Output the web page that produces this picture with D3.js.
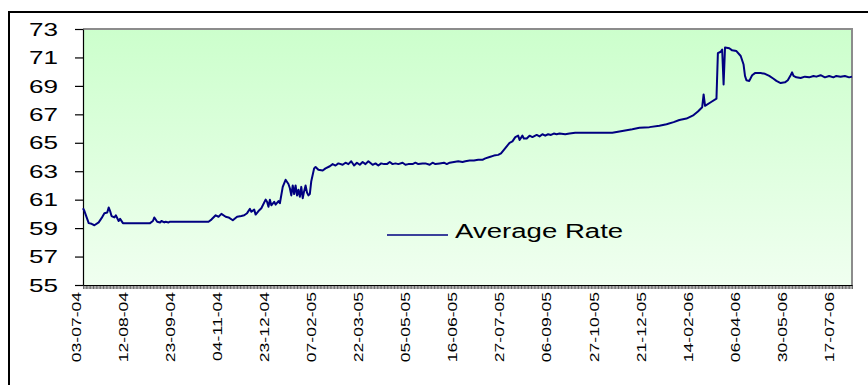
<!DOCTYPE html>
<html>
<head>
<meta charset="utf-8">
<script src="https://cdn.jsdelivr.net/npm/d3@7"></script>
<style>
  html, body { margin: 0; padding: 0; background: #ffffff; }
  svg { display: block; }
  text { font-family: Arial, "Liberation Sans", sans-serif; fill: #000; }
</style>
</head>
<body>
<svg id="chart" width="868" height="385"></svg>
<script>
// ---- data ----
const seriesName = "Average Rate";
const categoryCount = 540;          // number of daily observations on the category axis
const labelStep = 33;               // a label every 33 observations
const tickLabels = ["03-07-04","12-08-04","23-09-04","04-11-04","23-12-04","07-02-05",
  "22-03-05","05-05-05","16-06-05","27-07-05","06-09-05","27-10-05","21-12-05",
  "14-02-06","06-04-06","30-05-06","17-07-06"];
const yTicks = [55,57,59,61,63,65,67,69,71,73];

const obsIndex = [0,1,4,6,8,11,13,15,17,18,19,20,22,23,25,26,28,47,49,50,52,54,55,57,58,60,61,88,90,93,95,97,100,102,105,108,111,113,115,117,118,120,121,123,125,128,129,130,131,132,134,135,137,138,140,142,144,145,146,147,148,149,150,151,152,153,154,155,156,157,158,159,160,162,163,165,168,170,173,175,177,179,182,184,186,188,190,192,194,196,198,200,203,205,207,209,211,213,215,217,219,221,224,226,228,231,233,235,238,240,243,245,247,250,253,255,257,260,263,266,268,271,274,277,280,282,285,288,291,293,295,297,299,301,303,305,306,308,309,311,313,315,318,320,322,324,326,328,330,332,334,338,341,345,348,362,371,376,385,390,397,404,409,414,418,423,428,431,434,435,436,440,444,445,447,448,449,450,453,455,458,461,463,464,465,467,469,471,475,478,481,484,486,489,492,494,496,497,498,500,503,506,509,512,514,517,520,523,526,528,531,534,537,539];
const averageRate = [60.4,60.2,59.35,59.3,59.2,59.4,59.7,60.05,60.1,60.45,60.2,59.85,59.75,59.9,59.5,59.65,59.35,59.35,59.5,59.75,59.45,59.4,59.5,59.4,59.45,59.4,59.45,59.45,59.6,59.9,59.8,60.0,59.8,59.75,59.55,59.8,59.85,59.9,60.05,60.35,60.15,60.3,59.95,60.2,60.4,61.0,60.85,60.5,61.0,60.6,60.85,60.65,60.9,60.75,61.9,62.4,62.1,61.8,61.3,62.0,61.4,62.0,61.3,61.7,61.2,61.9,61.1,61.6,62.0,61.5,61.3,61.4,62.3,63.2,63.3,63.1,63.05,63.2,63.35,63.5,63.4,63.55,63.45,63.6,63.5,63.7,63.4,63.6,63.45,63.65,63.5,63.7,63.45,63.55,63.4,63.55,63.5,63.5,63.65,63.5,63.55,63.5,63.6,63.45,63.5,63.5,63.6,63.5,63.55,63.55,63.45,63.6,63.5,63.55,63.6,63.5,63.6,63.65,63.7,63.65,63.7,63.75,63.75,63.8,63.8,63.9,64.0,64.1,64.15,64.25,64.5,64.75,65.0,65.1,65.4,65.5,65.2,65.5,65.3,65.3,65.5,65.4,65.55,65.45,65.6,65.5,65.6,65.55,65.65,65.6,65.65,65.6,65.65,65.7,65.7,65.7,65.7,65.8,65.95,66.05,66.1,66.2,66.3,66.45,66.6,66.7,66.95,67.2,67.5,68.4,67.6,67.85,68.1,71.3,71.4,71.55,69.1,71.7,71.65,71.5,71.45,71.1,70.5,69.7,69.4,69.35,69.75,69.9,69.9,69.85,69.7,69.5,69.35,69.2,69.25,69.4,69.75,69.95,69.7,69.6,69.55,69.65,69.6,69.7,69.65,69.75,69.6,69.7,69.6,69.7,69.65,69.7,69.6,69.65];

// ---- layout ----
const svg = d3.select("#chart");
const plot = { left: 83, top: 29, right: 852, bottom: 285 };

const x = d3.scaleLinear().domain([0, categoryCount - 1]).range([plot.left, plot.right]);
const y = d3.scaleLinear().domain([55, 73]).range([plot.bottom, plot.top]);

// outer chart frame (extends past the right/bottom edges as in the reference)
svg.append("rect")
  .attr("x", 9).attr("y", 12).attr("width", 1000).attr("height", 600)
  .attr("fill", "none").attr("stroke", "#000").attr("stroke-width", 2);

// plot area gradient
const defs = svg.append("defs");
const grad = defs.append("linearGradient").attr("id", "bg")
  .attr("x1", 0).attr("y1", 0).attr("x2", 0).attr("y2", 1);
grad.append("stop").attr("offset", "0%").attr("stop-color", "#ccffcc");
grad.append("stop").attr("offset", "100%").attr("stop-color", "#f0fff0");

svg.append("rect")
  .attr("x", plot.left).attr("y", plot.top)
  .attr("width", plot.right - plot.left).attr("height", plot.bottom - plot.top)
  .attr("fill", "url(#bg)");

// plot border top/right (grey)
svg.append("path")
  .attr("d", `M${plot.left},${plot.top}H${plot.right}V${plot.bottom}`)
  .attr("fill", "none").attr("stroke", "#8c8c8c").attr("stroke-width", 2);

// y axis
const yAxis = svg.append("g")
  .attr("transform", `translate(${plot.left},0)`)
  .call(d3.axisLeft(y).tickValues(yTicks).tickSize(8).tickSizeOuter(0).tickFormat(d3.format("d")));
yAxis.select(".domain").attr("stroke", "#000").attr("stroke-width", 1.2);
yAxis.selectAll(".tick line").attr("stroke", "#000").attr("stroke-width", 1.2);
yAxis.selectAll(".tick text")
  .attr("x", null).attr("dy", "0.34em")
  .attr("transform", "translate(-25,0) scale(1.45,1)")
  .style("font-size", "18px")
  .attr("text-anchor", "end");

// x axis (a tick for each observation)
const xAxis = svg.append("g")
  .attr("transform", `translate(0,${plot.bottom})`)
  .call(d3.axisBottom(x).tickValues(d3.range(categoryCount)).tickSize(4).tickSizeOuter(0).tickFormat(""));
xAxis.select(".domain").attr("stroke", "#000").attr("stroke-width", 1.2);
xAxis.selectAll(".tick line").attr("stroke", "#000").attr("stroke-width", 0.6);

// rotated category labels
svg.append("g").selectAll("text")
  .data(tickLabels)
  .join("text")
  .attr("transform", (d, i) => `translate(${x(i * labelStep) - 7},292) rotate(-90) scale(1.35,1)`)
  .attr("text-anchor", "end")
  .attr("dy", "0.36em")
  .style("font-size", "13px")
  .text(d => d);

// the series line
const points = obsIndex.map((d, i) => [d, averageRate[i]]);
svg.append("path")
  .datum(points)
  .attr("fill", "none")
  .attr("stroke", "#000080")
  .attr("stroke-width", 2)
  .attr("stroke-linejoin", "round")
  .attr("d", d3.line().x(d => x(d[0])).y(d => y(d[1])));

// legend
const legend = svg.append("g");
legend.append("line")
  .attr("x1", 387).attr("x2", 448).attr("y1", 235).attr("y2", 235)
  .attr("stroke", "#000080").attr("stroke-width", 1.5);
legend.append("text")
  .attr("transform", "translate(455,238) scale(1.38,1)")
  .style("font-size", "20px")
  .text(seriesName);
</script>
</body>
</html>
